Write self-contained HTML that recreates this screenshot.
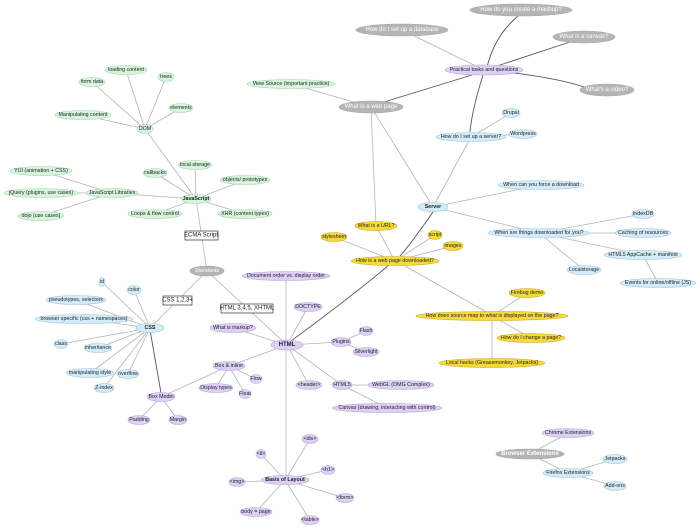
<!DOCTYPE html>
<html><head><meta charset="utf-8"><style>
html,body{margin:0;padding:0;background:#fff;}
svg{display:block;}
text{font-family:"Liberation Sans",sans-serif;font-size:5.3px;text-anchor:middle;dominant-baseline:central;fill:#222;}
.l{stroke:#b4b4b4;stroke-width:0.8;fill:none;}
.d{stroke:#555;stroke-width:0.9;fill:none;}
.g{fill:#d6f5dd;stroke:#a5d6ae;stroke-width:0.6;}
.b{fill:#d4ecf9;stroke:#9fc7df;stroke-width:0.6;}
.p{fill:#ddd0f6;stroke:#b6a6de;stroke-width:0.6;}
.y{fill:#f6d93a;stroke:#c9ad2c;stroke-width:0.6;}
.k{fill:#b5b5b5;stroke:#a5a5a5;stroke-width:0.6;}
.w{fill:#fff;font-size:6px;}
.bo{font-weight:bold;}
.box{fill:#fff;stroke:#333;stroke-width:0.7;}
</style></head><body>
<svg width="700" height="529" viewBox="0 0 700 529">
<!-- edges -->
<g class="l">
<line x1="145" y1="129" x2="126" y2="70"/><line x1="145" y1="129" x2="166" y2="77"/><line x1="145" y1="129" x2="92" y2="82"/>
<line x1="145" y1="129" x2="181" y2="108"/><line x1="145" y1="129" x2="83" y2="115"/><line x1="145" y1="129" x2="196" y2="199"/>
<line x1="196" y1="199" x2="195" y2="165"/><line x1="196" y1="199" x2="155" y2="173"/><line x1="196" y1="199" x2="245" y2="180"/>
<line x1="196" y1="199" x2="112" y2="193"/><line x1="196" y1="199" x2="155" y2="214"/><line x1="196" y1="199" x2="245" y2="214"/>
<line x1="196" y1="199" x2="207" y2="271"/>
<line x1="112" y1="193" x2="41" y2="171"/><line x1="112" y1="193" x2="41" y2="193"/><line x1="112" y1="193" x2="41" y2="216"/>
<line x1="207" y1="271" x2="150" y2="328"/><line x1="207" y1="271" x2="287" y2="345"/>
<line x1="150" y1="328" x2="102" y2="282"/><line x1="150" y1="328" x2="134" y2="290"/><line x1="150" y1="328" x2="76" y2="300"/>
<line x1="150" y1="328" x2="84" y2="319"/><line x1="150" y1="328" x2="61" y2="344"/><line x1="150" y1="328" x2="98" y2="348"/>
<line x1="150" y1="328" x2="90" y2="373"/><line x1="150" y1="328" x2="128" y2="374"/><line x1="150" y1="328" x2="104" y2="388"/>
<line x1="161" y1="397" x2="139" y2="420"/><line x1="161" y1="397" x2="178" y2="420"/><line x1="161" y1="397" x2="229" y2="366"/>
<line x1="229" y1="366" x2="256" y2="379"/><line x1="229" y1="366" x2="216" y2="388"/><line x1="229" y1="366" x2="245" y2="394"/><line x1="229" y1="366" x2="287" y2="345"/>
<line x1="286" y1="276" x2="286" y2="480"/><line x1="287" y1="345" x2="308" y2="307"/><line x1="287" y1="345" x2="233" y2="328"/>
<line x1="287" y1="345" x2="341" y2="342"/><line x1="287" y1="345" x2="309" y2="385"/><line x1="287" y1="345" x2="342" y2="385"/>
<line x1="341" y1="342" x2="366" y2="331"/><line x1="341" y1="342" x2="366" y2="352"/>
<line x1="342" y1="385" x2="401" y2="385"/><line x1="342" y1="385" x2="387" y2="408"/>
<line x1="285" y1="480" x2="310" y2="439"/><line x1="285" y1="480" x2="261" y2="454"/><line x1="285" y1="480" x2="328" y2="470"/>
<line x1="285" y1="480" x2="237" y2="482"/><line x1="285" y1="480" x2="345" y2="498"/><line x1="285" y1="480" x2="256" y2="512"/><line x1="285" y1="480" x2="310" y2="520"/>
<line x1="371" y1="107" x2="291" y2="84"/><line x1="371" y1="107" x2="376" y2="226"/><line x1="371" y1="107" x2="433" y2="207"/>
<line x1="376" y1="226" x2="395" y2="261"/><line x1="334" y1="237" x2="395" y2="261"/>
<line x1="484" y1="70" x2="402" y2="30"/>
<line x1="471" y1="137" x2="511" y2="113"/><line x1="471" y1="137" x2="523" y2="134"/><line x1="471" y1="137" x2="433" y2="207"/>
<line x1="433" y1="207" x2="541" y2="185"/><line x1="433" y1="207" x2="539" y2="233"/>
<line x1="539" y1="233" x2="643" y2="214"/><line x1="539" y1="233" x2="643" y2="233"/><line x1="539" y1="233" x2="643" y2="255"/><line x1="539" y1="233" x2="584" y2="270"/>
<line x1="643" y1="255" x2="658" y2="283"/>
<line x1="395" y1="261" x2="435" y2="235"/><line x1="395" y1="261" x2="453" y2="246"/><line x1="405" y1="266" x2="490" y2="314"/>
<line x1="492" y1="316" x2="527" y2="293"/><line x1="492" y1="316" x2="531" y2="338"/><line x1="492" y1="316" x2="492" y2="363"/>
<line x1="530" y1="454" x2="568" y2="433"/><line x1="530" y1="454" x2="568" y2="473"/>
<line x1="568" y1="473" x2="615" y2="459"/><line x1="568" y1="473" x2="615" y2="486"/>
</g>
<g class="d">
<path d="M487 67 Q 495 35 518 16"/><line x1="497" y1="66" x2="570" y2="42"/><path d="M505 72 Q 560 78 590 89"/>
<line x1="472" y1="75" x2="384" y2="102"/><path d="M483 75 Q 472 110 470 132"/>
<path d="M433 212 Q 410 245 400 256"/><path d="M291 341 Q 360 290 390 264"/>
<line x1="150" y1="330" x2="161" y2="393"/>
</g>
<!-- nodes -->
<g>
<ellipse class="g" cx="126" cy="70" rx="21" ry="4.5"/><text x="126" y="70">loading content</text>
<ellipse class="g" cx="166" cy="77" rx="8" ry="4.5"/><text x="166" y="77">trees</text>
<ellipse class="g" cx="92" cy="82" rx="13" ry="4.5"/><text x="92" y="82">form data</text>
<ellipse class="g" cx="181" cy="108" rx="12" ry="4.5"/><text x="181" y="108">elements</text>
<ellipse class="g" cx="83" cy="115" rx="28" ry="4.5"/><text x="83" y="115">Manipulating content</text>
<ellipse class="g" cx="145" cy="129" rx="8" ry="4.5"/><text x="145" y="129">DOM</text>
<ellipse class="g" cx="291" cy="84" rx="44" ry="4.5"/><text x="291" y="84">View Source (important practice)</text>
<ellipse class="g" cx="195" cy="165" rx="17" ry="4.5"/><text x="195" y="165">local storage</text>
<ellipse class="g" cx="155" cy="173" rx="12" ry="4.5"/><text x="155" y="173">callbacks</text>
<ellipse class="g" cx="41" cy="171" rx="31" ry="4.5"/><text x="41" y="171">YUI (animation + CSS)</text>
<ellipse class="g" cx="245" cy="180" rx="25" ry="4.5"/><text x="245" y="180">objects/ prototypes</text>
<ellipse class="g" cx="41" cy="193" rx="37" ry="4.5"/><text x="41" y="193">jQuery (plugins, use cases)</text>
<ellipse class="g" cx="112" cy="193" rx="26" ry="4.5"/><text x="112" y="193">JavaScript Libraries</text>
<ellipse class="g" cx="196" cy="199" rx="15" ry="4.5"/><text class="bo" x="196" y="199">JavaScript</text>
<ellipse class="g" cx="155" cy="214" rx="27" ry="4.5"/><text x="155" y="214">Loops &amp; flow control</text>
<ellipse class="g" cx="245" cy="214" rx="27" ry="4.5"/><text x="245" y="214">XHR (content types)</text>
<ellipse class="g" cx="41" cy="216" rx="23" ry="4.5"/><text x="41" y="216">dojo (use cases)</text>
<rect class="box" x="185" y="231" width="33" height="9"/><text x="201" y="235.5" style="font-size:6px">ECMA Script</text>
<ellipse class="y" cx="334" cy="237" rx="13" ry="4.5"/><text x="334" y="237">stylesheet</text>

<ellipse class="k" cx="521" cy="10" rx="51" ry="6"/><text class="w" x="521" y="10">How do you create a mashup?</text>
<ellipse class="k" cx="402" cy="30" rx="46" ry="6"/><text class="w" x="402" y="30">How do I set up a database</text>
<ellipse class="k" cx="584" cy="37" rx="31" ry="6"/><text class="w" x="584" y="37">What is a canvas?</text>
<ellipse class="p" cx="484" cy="70" rx="39" ry="5"/><text x="484" y="70">Practical tasks and questions</text>
<ellipse class="k" cx="607" cy="90" rx="27" ry="6"/><text class="w" x="607" y="90">What's a video?</text>
<ellipse class="k" cx="371" cy="107" rx="32" ry="6"/><text class="w" x="371" y="107">What is a web page</text>
<ellipse class="b" cx="511" cy="113" rx="9" ry="4.5"/><text x="511" y="113">Drupal</text>
<ellipse class="b" cx="523" cy="134" rx="14" ry="4.5"/><text x="523" y="134">Wordpress</text>
<ellipse class="b" cx="471" cy="137" rx="35" ry="4.5"/><text x="471" y="137">How do I set up a server?</text>
<ellipse class="b" cx="541" cy="185" rx="43" ry="4.5"/><text x="541" y="185">When can you force a download</text>
<ellipse class="b" cx="433" cy="207" rx="15" ry="4.5"/><text class="bo" x="433" y="207">Server</text>
<ellipse class="b" cx="643" cy="214" rx="11" ry="4.5"/><text x="643" y="214">IndexDB</text>
<ellipse class="y" cx="376" cy="226" rx="21" ry="4.5"/><text x="376" y="226">What is a URL?</text>
<ellipse class="b" cx="539" cy="233" rx="51" ry="4.5"/><text x="539" y="233">When are things downloaded for you?</text>
<ellipse class="b" cx="643" cy="233" rx="28" ry="4.5"/><text x="643" y="233">Caching of resources</text>
<ellipse class="y" cx="435" cy="235" rx="7" ry="4.5"/><text x="435" y="235">script</text>
<ellipse class="y" cx="453" cy="246" rx="10" ry="4.5"/><text x="453" y="246">images</text>
<ellipse class="b" cx="643" cy="255" rx="39" ry="4.5"/><text x="643" y="255">HTML5 AppCache + manifest</text>
<ellipse class="y" cx="395" cy="261" rx="44" ry="4.5"/><text x="395" y="261">How is a web page downloaded?</text>

<ellipse class="k" cx="207" cy="271" rx="17" ry="5"/><text class="w" x="207" y="271" style="font-size:5.3px">Standards</text>
<ellipse class="p" cx="286" cy="276" rx="44" ry="4.5"/><text x="286" y="276">Document order vs. display order</text>
<ellipse class="b" cx="102" cy="282" rx="3" ry="4.5"/><text x="102" y="282">id</text>
<ellipse class="b" cx="134" cy="290" rx="7" ry="4.5"/><text x="134" y="290">color</text>
<rect class="box" x="163" y="296" width="29" height="9"/><text x="177.5" y="300.5" style="font-size:6px">CSS 1,2,3+</text>
<ellipse class="b" cx="76" cy="300" rx="30" ry="4.5"/><text x="76" y="300">pseudotypes, selectors</text>
<rect class="box" x="221" y="304" width="52" height="9"/><text x="247" y="308.5" style="font-size:6px">HTML 3,4,5, XHTML</text>
<ellipse class="p" cx="308" cy="307" rx="14" ry="4.5"/><text x="308" y="307">DOCTYPE</text>
<ellipse class="b" cx="84" cy="319" rx="49" ry="4.5"/><text x="84" y="319">browser specific (css + namespaces)</text>
<ellipse class="b" cx="150" cy="328" rx="14" ry="4.5"/><text class="bo" x="150" y="328">CSS</text>
<ellipse class="p" cx="233" cy="328" rx="23" ry="4.5"/><text x="233" y="328">What is markup?</text>
<ellipse class="p" cx="287" cy="345" rx="16" ry="5"/><text class="bo" x="287" y="345" style="font-size:6px">HTML</text>
<ellipse class="p" cx="341" cy="342" rx="10" ry="4.5"/><text x="341" y="342">Plugins</text>
<ellipse class="b" cx="61" cy="344" rx="7" ry="4.5"/><text x="61" y="344">class</text>
<ellipse class="b" cx="98" cy="348" rx="14" ry="4.5"/><text x="98" y="348">inheritance</text>
<ellipse class="p" cx="229" cy="366" rx="16" ry="4.5"/><text x="229" y="366">Box &amp; inline</text>
<ellipse class="p" cx="256" cy="379" rx="6" ry="4.5"/><text x="256" y="379">Flow</text>
<ellipse class="b" cx="90" cy="373" rx="24" ry="4.5"/><text x="90" y="373">manipulating style</text>
<ellipse class="b" cx="128" cy="374" rx="11" ry="4.5"/><text x="128" y="374">overflow</text>
<ellipse class="p" cx="216" cy="388" rx="17" ry="4.5"/><text x="216" y="388">Display types</text>
<ellipse class="p" cx="245" cy="394" rx="6" ry="4.5"/><text x="245" y="394">Float</text>
<ellipse class="p" cx="309" cy="385" rx="13" ry="4.5"/><text x="309" y="385">&lt;header&gt;</text>
<ellipse class="p" cx="342" cy="385" rx="10" ry="4.5"/><text x="342" y="385">HTML5</text>
<ellipse class="b" cx="104" cy="388" rx="10" ry="4.5"/><text x="104" y="388">Z-index</text>
<ellipse class="p" cx="161" cy="397" rx="14" ry="4.5"/><text x="161" y="397">Box Model</text>
<ellipse class="p" cx="139" cy="420" rx="11" ry="4.5"/><text x="139" y="420">Padding</text>
<ellipse class="p" cx="178" cy="420" rx="9" ry="4.5"/><text x="178" y="420">Margin</text>
<ellipse class="p" cx="387" cy="408" rx="55" ry="4.5"/><text x="387" y="408">Canvas (drawing, interacting with control)</text>
<ellipse class="p" cx="310" cy="439" rx="8" ry="4.5"/><text x="310" y="439">&lt;div&gt;</text>
<ellipse class="p" cx="261" cy="454" rx="5" ry="4.5"/><text x="261" y="454">&lt;li&gt;</text>
<ellipse class="p" cx="328" cy="470" rx="7" ry="4.5"/><text x="328" y="470">&lt;h1&gt;</text>
<ellipse class="p" cx="285" cy="480" rx="24" ry="4.5"/><text class="bo" x="285" y="480">Basis of Layout</text>
<ellipse class="p" cx="237" cy="482" rx="8" ry="4.5"/><text x="237" y="482">&lt;img&gt;</text>
<ellipse class="p" cx="345" cy="498" rx="9" ry="4.5"/><text x="345" y="498">&lt;form&gt;</text>
<ellipse class="p" cx="256" cy="512" rx="16" ry="4.5"/><text x="256" y="512">body = page</text>
<ellipse class="p" cx="310" cy="520" rx="9" ry="4.5"/><text x="310" y="520">&lt;table&gt;</text>

<ellipse class="b" cx="584" cy="270" rx="17" ry="4.5"/><text x="584" y="270">Localstorage</text>
<ellipse class="b" cx="658" cy="283" rx="38" ry="4.5"/><text x="658" y="283">Events for online/offline (JS)</text>
<ellipse class="y" cx="527" cy="293" rx="18" ry="4.5"/><text x="527" y="293">Firebug demo</text>
<ellipse class="y" cx="492" cy="316" rx="76" ry="4.5"/><text x="492" y="316">How does source map to what is displayed on the page?</text>
<ellipse class="p" cx="366" cy="331" rx="7" ry="4.5"/><text x="366" y="331">Flash</text>
<ellipse class="y" cx="531" cy="338" rx="34" ry="4.5"/><text x="531" y="338">How do I change a page?</text>
<ellipse class="p" cx="366" cy="352" rx="13" ry="4.5"/><text x="366" y="352">Silverlight</text>
<ellipse class="y" cx="492" cy="363" rx="53" ry="4.5"/><text x="492" y="363">Local hacks (Greasemonkey, Jetpacks)</text>
<ellipse class="p" cx="401" cy="385" rx="33" ry="4.5"/><text x="401" y="385">WebGL (OMG Complex)</text>
<ellipse class="p" cx="568" cy="433" rx="26" ry="4.5"/><text x="568" y="433">Chrome Extensions</text>
<ellipse class="k" cx="530" cy="454" rx="34" ry="5"/><text class="w bo" x="530" y="454">Browser Extensions</text>
<ellipse class="b" cx="615" cy="459" rx="12" ry="4.5"/><text x="615" y="459">Jetpacks</text>
<ellipse class="b" cx="568" cy="473" rx="25" ry="4.5"/><text x="568" y="473">Firefox Extensions</text>
<ellipse class="b" cx="615" cy="486" rx="11" ry="4.5"/><text x="615" y="486">Add-ons</text>
</g>
</svg>
</body></html>
